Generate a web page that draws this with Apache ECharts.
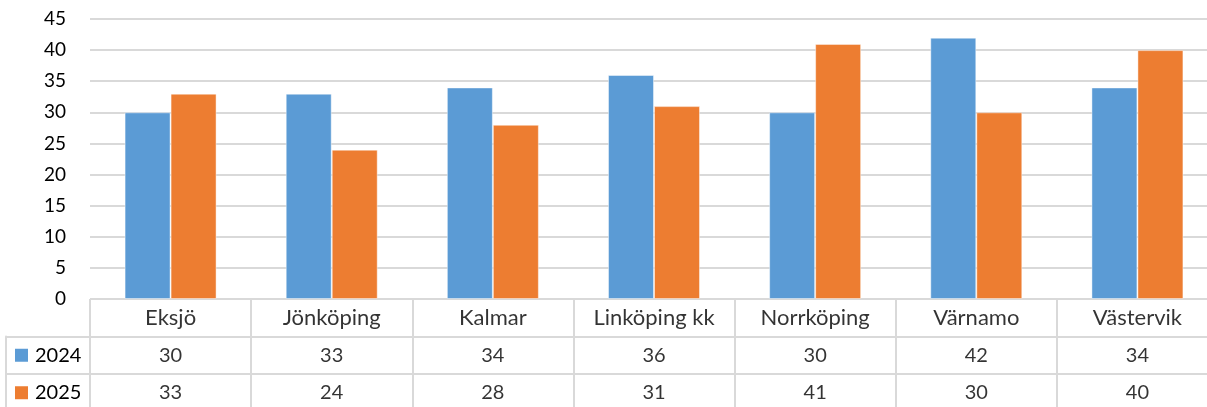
<!DOCTYPE html>
<html>
<head>
<meta charset="utf-8">
<script src="https://cdn.jsdelivr.net/npm/echarts@6/dist/echarts.min.js"></script>
<style>
  html, body { margin: 0; padding: 0; background: #fff; }
  #chart { width: 1207px; height: 407px; }
</style>
</head>
<body>
<div id="chart"></div>
<script>
// Categories and yearly values
const categories = ['Eksjö', 'Jönköping', 'Kalmar', 'Linköping kk', 'Norrköping', 'Värnamo', 'Västervik'];
const seriesNames = ['2024', '2025'];
const values2024 = [30, 33, 34, 36, 30, 42, 34];
const values2025 = [33, 24, 28, 31, 41, 30, 40];
const yTicks = { min: 0, max: 45, interval: 5 };

const COLORS = ['#5B9BD5', '#ED7D31'];
const LINE = '#d9d9d9';
const FONT = 'Lato';
const TEXT = '#000';

// Rows of the data table below the plot: header row plus one row per series
const tableRows = ['head'].concat(seriesNames);
const headCells = categories.map(c => [c, 'head', c]);
const valueCells = [];
categories.forEach((c, i) => {
  valueCells.push([c, '2024', String(values2024[i])]);
  valueCells.push([c, '2025', String(values2025[i])]);
});

const chart = echarts.init(document.getElementById('chart'), null, { renderer: 'canvas' });

const gridBase = { outerBoundsMode: 'none', containLabel: false };
const cellLabel = size => ({
  show: true, position: 'inside', color: TEXT, fontSize: size, fontFamily: FONT,
  formatter: p => p.value[2]
});

const option = {
  animation: false,
  backgroundColor: '#fff',
  textStyle: { fontFamily: FONT },
  grid: [
    // plot area
    Object.assign({ left: 90, top: 19, width: 1128, height: 280 }, gridBase),
    // data table body
    Object.assign({ left: 90, top: 299, width: 1128, height: 112.5 }, gridBase),
    // legend column of the table
    Object.assign({ left: 6, top: 336.5, width: 84, height: 75 }, gridBase)
  ],
  xAxis: [
    {
      gridIndex: 0, type: 'category', data: categories,
      axisLine: { show: false }, axisTick: { show: false }, axisLabel: { show: false }
    },
    {
      gridIndex: 1, type: 'category', data: categories, boundaryGap: true,
      axisLine: { show: false }, axisTick: { show: false }, axisLabel: { show: false },
      splitLine: { show: true, lineStyle: { color: LINE, width: 2 } }
    },
    {
      gridIndex: 2, type: 'value', show: false
    }
  ],
  yAxis: [
    {
      gridIndex: 0, type: 'value', min: yTicks.min, max: yTicks.max, interval: yTicks.interval,
      axisLine: { show: false }, axisTick: { show: false },
      axisLabel: { color: TEXT, fontSize: 19, fontFamily: FONT, margin: 24 },
      splitLine: { show: true, lineStyle: { color: LINE, width: 2 } }
    },
    {
      gridIndex: 1, type: 'category', data: tableRows, inverse: true, boundaryGap: true,
      axisLine: { show: false }, axisTick: { show: false }, axisLabel: { show: false },
      splitLine: { show: true, lineStyle: { color: LINE, width: 2 } }
    },
    {
      gridIndex: 2, type: 'category', data: seriesNames, inverse: true, boundaryGap: true,
      axisLine: { show: true, lineStyle: { color: LINE, width: 2 } },
      axisTick: { show: false },
      splitLine: { show: true, lineStyle: { color: LINE, width: 2 } },
      axisLabel: {
        inside: true, margin: 9,
        formatter: (v, i) => '{m' + i + '|}{t|' + v + '}',
        rich: {
          m0: { width: 13, height: 13, backgroundColor: COLORS[0] },
          m1: { width: 13, height: 13, backgroundColor: COLORS[1] },
          t: { fontSize: 20, fontFamily: FONT, color: TEXT, padding: [0, 0, 0, 7] }
        }
      }
    }
  ],
  series: [
    {
      name: seriesNames[0], type: 'bar', xAxisIndex: 0, yAxisIndex: 0,
      data: values2024, barWidth: 46, barGap: '0%',
      itemStyle: { color: COLORS[0], borderColor: 'rgba(255,255,255,0.45)', borderWidth: 1 },
      silent: true
    },
    {
      name: seriesNames[1], type: 'bar', xAxisIndex: 0, yAxisIndex: 0,
      data: values2025, barWidth: 46, barGap: '0%',
      itemStyle: { color: COLORS[1], borderColor: 'rgba(255,255,255,0.45)', borderWidth: 1 },
      silent: true
    },
    {
      // category names in the table header row
      type: 'scatter', xAxisIndex: 1, yAxisIndex: 1,
      data: headCells, symbolSize: 1,
      itemStyle: { color: 'rgba(0,0,0,0)' },
      label: cellLabel(22),
      silent: true
    },
    {
      // values in the table rows
      type: 'scatter', xAxisIndex: 1, yAxisIndex: 1,
      data: valueCells, symbolSize: 1,
      itemStyle: { color: 'rgba(0,0,0,0)' },
      label: cellLabel(20),
      silent: true
    }
  ]
};

chart.setOption(option);
</script>
</body>
</html>
